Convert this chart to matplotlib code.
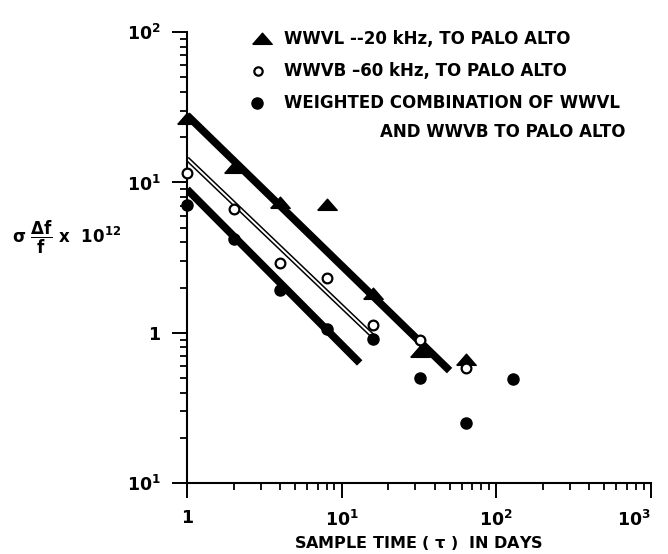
import numpy as np
import matplotlib
matplotlib.use('Agg')
import matplotlib.pyplot as plt
from matplotlib.ticker import LogLocator, NullFormatter, FixedLocator, FixedFormatter

plt.rcParams['font.family'] = ['DejaVu Sans']
plt.rcParams['font.weight'] = 'bold'
plt.rcParams['mathtext.fontset'] = 'dejavusans'
plt.rcParams['mathtext.default'] = 'bf'

# measured points, sample time tau in days
wwvl_tau = [1, 2, 4, 8, 16, 32, 64]
wwvl_val = [26.5, 12.5, 7.3, 7.1, 1.8, 0.75, 0.66]

wwvb_tau = [1, 2, 4, 8, 16, 32, 64]
wwvb_val = [11.6, 6.7, 2.9, 2.3, 1.13, 0.89, 0.58]

comb_tau = [1, 2, 4, 8, 16, 32, 64, 128]
comb_val = [7.1, 4.2, 1.93, 1.06, 0.91, 0.50, 0.25, 0.49]

# fitted straight lines (end points)
wwvl_fit_tau = [1, 50]
wwvl_fit_val = [28.0, 0.56]
wwvb_fit_tau = [1, 16.3]
wwvb_fit_val = [14.4, 0.93]
comb_fit_tau = [1, 13.1]
comb_fit_val = [9.0, 0.63]

labels = ['WWVL --20 kHz, TO PALO ALTO',
          'WWVB \u201360 kHz, TO PALO ALTO',
          'WEIGHTED COMBINATION OF WWVL',
          'AND WWVB TO PALO ALTO']

x_ticks = [1, 10, 100, 1000]
x_ticklabels = ['1', r'$10^{1}$', r'$10^{2}$', r'$10^{3}$']
y_ticks = [0.1, 1, 10, 100]
y_ticklabels = [r'$10^{1}$', '1', r'$10^{1}$', r'$10^{2}$']

# wide triangle marker like the original
tri = [(-1, -0.5), (1, -0.5), (0, 0.65), (-1, -0.5)]

fig = plt.figure(figsize=(6.68, 5.54), dpi=100)
ax = fig.add_axes([0.280, 0.128, 0.694, 0.814])

ax.plot(wwvl_fit_tau, wwvl_fit_val, color='black', lw=5.5, solid_capstyle='butt')
ax.plot(wwvb_fit_tau, wwvb_fit_val, color='black', lw=3.6, solid_capstyle='butt')
ax.plot(wwvb_fit_tau, wwvb_fit_val, color='white', lw=1.4, solid_capstyle='butt')
ax.plot(comb_fit_tau, comb_fit_val, color='black', lw=5.5, solid_capstyle='butt')

ax.plot(wwvl_tau, wwvl_val, linestyle='', marker=tri, ms=14, color='black', clip_on=False, zorder=5)
ax.plot(wwvb_tau, wwvb_val, linestyle='', marker='o', ms=7, mfc='white', mec='black', mew=1.6,
        clip_on=False, zorder=6)
ax.plot(comb_tau, comb_val, linestyle='', marker='o', ms=8, color='black', clip_on=False, zorder=5)

ax.set_xscale('log')
ax.set_yscale('log')
ax.set_xlim(1, 1000)
ax.set_ylim(0.1, 100)

ax.spines['top'].set_visible(False)
ax.spines['right'].set_visible(False)
ax.spines['left'].set_linewidth(1.5)
ax.spines['bottom'].set_linewidth(1.5)

ax.xaxis.set_major_locator(FixedLocator(x_ticks))
ax.xaxis.set_major_formatter(FixedFormatter(x_ticklabels))
ax.yaxis.set_major_locator(FixedLocator(y_ticks))
ax.yaxis.set_major_formatter(FixedFormatter(y_ticklabels))
ax.xaxis.set_minor_locator(LogLocator(base=10, subs=np.arange(2, 10)))
ax.yaxis.set_minor_locator(LogLocator(base=10, subs=np.arange(2, 10)))
ax.xaxis.set_minor_formatter(NullFormatter())
ax.yaxis.set_minor_formatter(NullFormatter())

ax.tick_params(which='major', direction='out', length=11, width=1.4, labelsize=12.5, pad=8)
ax.tick_params(which='minor', direction='out', length=5, width=1.3)
ax.get_xticklabels()[-1].set_horizontalalignment('right')

ax.set_xlabel('SAMPLE TIME ( $\\tau$ )  IN DAYS', fontsize=11.5, fontweight='bold', labelpad=3)
ax.set_ylabel(r'$\sigma\ \dfrac{\Delta f}{f}\ \mathrm{x}\ \ 10^{12}$', fontsize=12, rotation=0,
              ha='center', va='center')
ax.yaxis.set_label_coords(-0.26, 0.545)

# key in the upper right
ax.plot([0.161], [0.985], marker=tri, ms=14, color='black', transform=ax.transAxes, clip_on=False)
ax.plot([0.152], [0.913], marker='o', ms=6, mfc='white', mec='black', mew=1.6,
        transform=ax.transAxes, clip_on=False)
ax.plot([0.150], [0.843], marker='o', ms=8, color='black', transform=ax.transAxes, clip_on=False)
ax.text(0.210, 0.985, labels[0], transform=ax.transAxes, fontsize=12, fontweight='bold', va='center')
ax.text(0.210, 0.913, labels[1], transform=ax.transAxes, fontsize=12, fontweight='bold', va='center')
ax.text(0.210, 0.843, labels[2], transform=ax.transAxes, fontsize=12, fontweight='bold', va='center')
ax.text(0.945, 0.778, labels[3], transform=ax.transAxes, fontsize=12, fontweight='bold', va='center',
        ha='right')

fig.savefig('out.png', dpi=100)
